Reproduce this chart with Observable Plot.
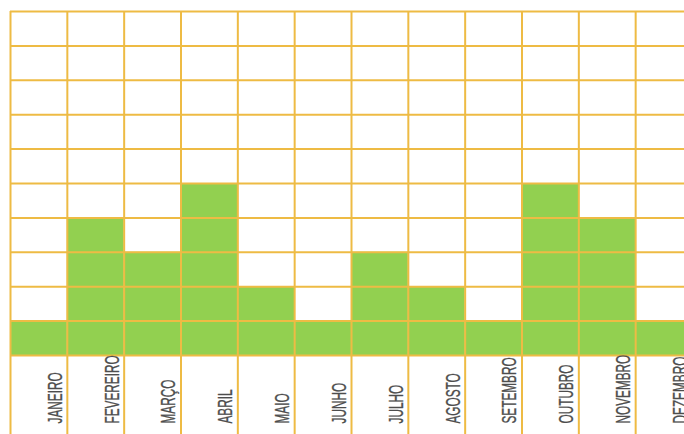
<!DOCTYPE html>
<html>
<head>
<meta charset="utf-8">
<script src="https://cdn.jsdelivr.net/npm/d3@7"></script>
<script src="https://cdn.jsdelivr.net/npm/@observablehq/plot@0.6"></script>
<style>
html,body{margin:0;padding:0;background:#fff;}
#chart{width:684px;height:434px;overflow:hidden;}
</style>
</head>
<body>
<div id="chart"></div>
<script>
const months = ["JANEIRO","FEVEREIRO","MARÇO","ABRIL","MAIO","JUNHO","JULHO","AGOSTO","SETEMBRO","OUTUBRO","NOVEMBRO","DEZEMBRO"];
const values = [1,4,3,5,2,1,3,2,1,5,4,1];
const gridRows = [0,1,2,3,4,5,6,7,8,9,10];

const data = months.map((m,i)=>({month:m, i, v:values[i]}));
const cols = d3.range(0, months.length + 1);

const chart = Plot.plot({
  width: 684,
  height: 434,
  marginTop: 11,
  marginBottom: 0,
  marginLeft: 0,
  marginRight: 0,
  x: {type:"linear", domain:[0,12], range:[10,692], axis:null},
  y: {type:"linear", domain:[0,10], range:[355,11], axis:null},
  style: {background:"#fff"},
  marks: [
    Plot.rectY(data, {x1:"i", x2:d=>d.i+1, y1:0, y2:"v", fill:"#92d050"}),
    Plot.ruleY(gridRows, {x1:0, x2:12, stroke:"#eebb44", strokeWidth:2}),
    Plot.ruleX(cols, {stroke:"#eebb44", strokeWidth:2}),
    Plot.text(data, {x:d=>d.i+1, y:0, text:"month", rotate:-90, textAnchor:"start", dx:-12, dy:68,
      fill:"#4d4d4d", stroke:"#4d4d4d", strokeWidth:0.35,
      fontSize:20, fontFamily:"'Liberation Sans',Arial,sans-serif", className:"mlabel"})
  ]
});
d3.select(chart).selectAll(".mlabel text").each(function(){
  const t = this.getAttribute("transform") || "";
  this.setAttribute("transform", t + " scale(0.59,1)");
});
document.getElementById("chart").appendChild(chart);
</script>
</body>
</html>
